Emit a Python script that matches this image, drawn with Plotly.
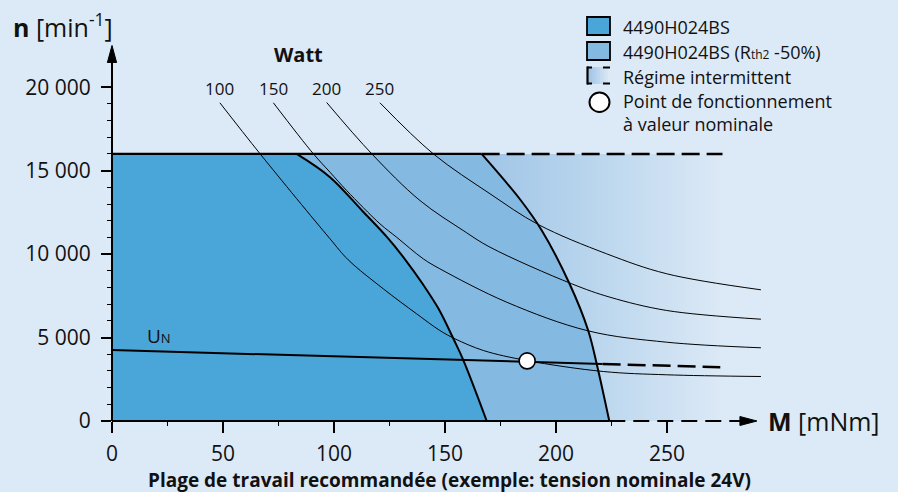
import plotly.graph_objects as go

# ---------------- data ----------------
M_TICKS = [0, 50, 100, 150, 200, 250]
M_MINOR = [25, 75, 125, 175, 225]
N_TICKS = [0, 5000, 10000, 15000, 20000]
N_TICK_TEXT = ["0", "5 000", "10 000", "15 000", "20 000"]
N_MINOR = [1000, 2000, 3000, 4000, 6000, 7000, 8000, 9000, 11000, 12000,
           13000, 14000, 16000, 17000, 18000, 19000]

N_LIMIT = 16000            # max speed
M_INTERMITTENT_END = 275   # end of intermittent zone
M_AXIS_END = 290.5         # arrow tip of torque axis
N_AXIS_END = 22500         # arrow tip of speed axis

# continuous operation limit (4490H024BS)
CONT_M = [83.2, 98.2, 112.6, 123.9, 131.8, 139.9, 147.1, 153.8, 158.2, 168.8]
CONT_N = [16000, 14608, 12613, 11013, 9719, 8221, 6723, 4925, 3667, 0]

# continuous operation limit with Rth2 -50%
LIGHT_M = [166.5, 184.2, 193.6, 206.1, 214.5, 218.5, 224.0]
LIGHT_N = [16000, 13212, 11414, 8221, 5423, 3326, 0]

# constant power curves (Watt)
POWER_LABELS = ["100", "150", "200", "250"]
P100_M = [48.6, 66.7, 98.2, 106.4, 122.2, 137.2, 147.7, 154.5, 167.3, 186.8, 221.3, 249.9, 292.3]
P100_N = [19065, 16010, 10917, 9658, 7920, 6423, 5422, 4925, 4224, 3625, 2966, 2768, 2666]
P150_M = [72.7, 90.7, 98.2, 105.7, 120.7, 128.2, 140.2, 147.7, 177.8, 214.5, 249.9, 292.3]
P150_N = [19065, 16010, 14907, 13810, 11815, 11013, 9718, 9119, 7118, 5400, 4721, 4386]
P200_M = [96.7, 117.0, 138.7, 158.2, 170.3, 207.1, 224.3, 249.9, 292.3]
P200_N = [19083, 16010, 13212, 11414, 10413, 8220, 7418, 6621, 6099]
P250_M = [120.7, 144.7, 170.3, 192.0, 222.8, 249.9, 292.3]
P250_N = [19065, 16010, 13613, 11773, 10018, 8820, 7861]

# nominal voltage line U_N
UN_M = [0, 221.0]
UN_N = [4250, 3420]
UN_DASH_M = [221.0, 274.0]
UN_DASH_N = [3420, 3220]

# nominal operating point
OP_M = [187]
OP_N = [3600]

# ---------------- styling ----------------
BG = "#dce9f6"
DARK = "#4aa5d8"
LIGHT = "#84b9e2"
GRAD0 = "#a0c5e7"
FONT = "Open Sans"
TXT = "#111111"

W, H = 898, 492
L, R, T, B = 112, 9, 20, 71
PW, PH = W - L - R, H - T - B
X_RANGE = [0, 350]
Y_RANGE = [0, 24026]


def xp(px):
    return (px - L) / PW


def yp(py):
    return (H - B - py) / PH


def mx(m):
    return (m - X_RANGE[0]) / (X_RANGE[1] - X_RANGE[0])


def ny(n):
    return (n - Y_RANGE[0]) / (Y_RANGE[1] - Y_RANGE[0])


fig = go.Figure()

# intermittent zone (gradient)
fig.add_trace(go.Scatter(
    x=[LIGHT_M[-1] - 60, LIGHT_M[-1] - 60, M_INTERMITTENT_END, M_INTERMITTENT_END],
    y=[0, N_LIMIT, N_LIMIT, 0],
    mode="none", fill="toself",
    fillgradient=dict(type="horizontal",
                      colorscale=[[0, GRAD0], [0.5, "#bcd7ee"], [1, BG]],
                      start=LIGHT_M[0], stop=M_INTERMITTENT_END),
    hoverinfo="skip", showlegend=False))

# light region
fig.add_trace(go.Scatter(
    x=[0, 0] + LIGHT_M, y=[0, N_LIMIT] + LIGHT_N,
    mode="none", fill="toself", fillcolor=LIGHT,
    hoverinfo="skip", showlegend=False))

# dark region
fig.add_trace(go.Scatter(
    x=[0, 0] + CONT_M, y=[0, N_LIMIT] + CONT_N,
    mode="none", fill="toself", fillcolor=DARK,
    hoverinfo="skip", showlegend=False))

# power curves
for pm, pn in [(P100_M, P100_N), (P150_M, P150_N), (P200_M, P200_N), (P250_M, P250_N)]:
    fig.add_trace(go.Scatter(x=pm, y=pn, mode="lines",
                             line=dict(color="black", width=1, shape="spline", smoothing=1.0),
                             hoverinfo="skip", showlegend=False))

# boundaries
fig.add_trace(go.Scatter(x=CONT_M, y=CONT_N, mode="lines",
                         line=dict(color="black", width=2, shape="spline", smoothing=1.0),
                         hoverinfo="skip", showlegend=False))
fig.add_trace(go.Scatter(x=LIGHT_M, y=LIGHT_N, mode="lines",
                         line=dict(color="black", width=2, shape="spline", smoothing=1.0),
                         hoverinfo="skip", showlegend=False))

# speed limit line
fig.add_trace(go.Scatter(x=[0, LIGHT_M[0]], y=[N_LIMIT, N_LIMIT], mode="lines",
                         line=dict(color="black", width=2.2),
                         hoverinfo="skip", showlegend=False))
fig.add_trace(go.Scatter(x=[LIGHT_M[0], M_INTERMITTENT_END], y=[N_LIMIT, N_LIMIT], mode="lines",
                         line=dict(color="black", width=2.5, dash="18px,7px"),
                         hoverinfo="skip", showlegend=False))

# U_N line
fig.add_trace(go.Scatter(x=UN_M, y=UN_N, mode="lines",
                         line=dict(color="black", width=2),
                         hoverinfo="skip", showlegend=False))
fig.add_trace(go.Scatter(x=UN_DASH_M, y=UN_DASH_N, mode="lines",
                         line=dict(color="black", width=2.5, dash="18px,7px"),
                         hoverinfo="skip", showlegend=False))

# operating point
fig.add_trace(go.Scatter(x=OP_M, y=OP_N, mode="markers",
                         marker=dict(size=16, color="white", line=dict(color="black", width=1.6)),
                         cliponaxis=False, hoverinfo="skip", showlegend=False))

shapes = []
# axes lines and arrows (paper refs to avoid clipping)
shapes.append(dict(type="line", xref="paper", yref="paper",
                   x0=mx(0), x1=mx(LIGHT_M[-1]), y0=0, y1=0,
                   line=dict(color="black", width=2)))
x_base = M_AXIS_END - 17 / PW * (X_RANGE[1] - X_RANGE[0])
shapes.append(dict(type="line", xref="paper", yref="paper",
                   x0=mx(LIGHT_M[-1]), x1=mx(x_base), y0=0, y1=0,
                   line=dict(color="black", width=2, dash="16px,8px")))
hh = 4.5 / PH
shapes.append(dict(type="path", xref="paper", yref="paper",
                   path=f"M {mx(M_AXIS_END)},0 L {mx(x_base)},{hh} L {mx(x_base)},{-hh} Z",
                   fillcolor="black", line=dict(color="black", width=1)))
y_base = N_AXIS_END - 17 / PH * (Y_RANGE[1] - Y_RANGE[0])
shapes.append(dict(type="line", xref="paper", yref="paper",
                   x0=0, x1=0, y0=0, y1=ny(y_base),
                   line=dict(color="black", width=2)))
hw = 4.6 / PW
shapes.append(dict(type="path", xref="paper", yref="paper",
                   path=f"M 0,{ny(N_AXIS_END)} L {-hw},{ny(y_base)} L {hw},{ny(y_base)} Z",
                   fillcolor="black", line=dict(color="black", width=1)))

# legend symbols
shapes.append(dict(type="rect", xref="paper", yref="paper",
                   x0=xp(587), x1=xp(610), y0=yp(35), y1=yp(17),
                   fillcolor=DARK, line=dict(color="black", width=1.8)))
shapes.append(dict(type="rect", xref="paper", yref="paper",
                   x0=xp(587), x1=xp(610), y0=yp(60), y1=yp(42),
                   fillcolor=LIGHT, line=dict(color="black", width=1.8)))


def hex2rgb(h):
    h = h.lstrip("#")
    return tuple(int(h[i:i + 2], 16) for i in (0, 2, 4))


c0, c1 = hex2rgb(GRAD0), hex2rgb(BG)
nstrip = 11
for i in range(nstrip):
    f = i / (nstrip - 1)
    col = "rgb(%d,%d,%d)" % tuple(round(a + (b - a) * f) for a, b in zip(c0, c1))
    xa = 588 + i * 22 / nstrip
    shapes.append(dict(type="rect", xref="paper", yref="paper",
                       x0=xp(xa), x1=xp(xa + 22 / nstrip + 0.3), y0=yp(84), y1=yp(67),
                       fillcolor=col, line=dict(width=0)))
shapes.append(dict(type="line", xref="paper", yref="paper",
                   x0=xp(587.5), x1=xp(587.5), y0=yp(84.5), y1=yp(66.5),
                   line=dict(color="black", width=2.2)))
for yy in (67.5, 83.5):
    shapes.append(dict(type="line", xref="paper", yref="paper",
                       x0=xp(587), x1=xp(592), y0=yp(yy), y1=yp(yy),
                       line=dict(color="black", width=2)))
    shapes.append(dict(type="line", xref="paper", yref="paper",
                       x0=xp(603), x1=xp(610), y0=yp(yy), y1=yp(yy),
                       line=dict(color="black", width=2)))
shapes.append(dict(type="circle", xref="paper", yref="paper",
                   x0=xp(589.5), x1=xp(609.5), y0=yp(112), y1=yp(92.5),
                   fillcolor="white", line=dict(color="black", width=2)))

annotations = []


def ann(text, x, y, xref="paper", yref="paper", xanchor="left", yanchor="middle", size=18, **kw):
    annotations.append(dict(text=text, x=x, y=y, xref=xref, yref=yref, xanchor=xanchor,
                            yanchor=yanchor, showarrow=False,
                            font=dict(family=FONT, size=size, color=TXT), **kw))


ann("<b>n</b> [min<sup>-1</sup>]", xp(11), yp(25), size=25)
ann("<b>M</b> [mNm]", xp(766), yp(421), size=25)
ann("<b>Watt</b>", 84, 21930, xref="x", yref="y", xanchor="center", size=20)
for lab, pm in zip(POWER_LABELS, [P100_M, P150_M, P200_M, P250_M]):
    ann(lab, pm[0], 19950, xref="x", yref="y", xanchor="center", size=17)
ann("U<span style='font-size:13px'>N</span>", 14.9, 5100, xref="x", yref="y", size=19)
ann("<b>Plage de travail recommandée (exemple: tension nominale 24V)</b>",
    xp(449), yp(479.5), xanchor="center", size=19)

ann("4490H024BS", xp(621), yp(27))
ann("4490H024BS (R<span style='font-size:12px'>th2</span> -50%)", xp(621), yp(52))
ann("Régime intermittent", xp(621), yp(77))
ann("Point de fonctionnement<br>à valeur nominale", xp(621), yp(112), align="left")

fig.update_layout(
    width=W, height=H,
    margin=dict(l=L, r=R, t=T, b=B, pad=0),
    paper_bgcolor=BG, plot_bgcolor=BG,
    font=dict(family=FONT, size=17, color=TXT),
    shapes=shapes, annotations=annotations,
    showlegend=False,
)
fig.update_xaxes(range=X_RANGE, showgrid=False, zeroline=False, showline=False,
                 tickmode="array", tickvals=M_TICKS, ticks="outside", ticklen=11,
                 tickwidth=1.5, tickcolor="black", tickfont=dict(size=21, family=FONT, color=TXT),
                 ticklabelstandoff=3,
                 minor=dict(tickmode="array", tickvals=M_MINOR, ticks="outside",
                            ticklen=4, tickwidth=1.2, tickcolor="black"),
                 fixedrange=True)
fig.update_yaxes(range=Y_RANGE, showgrid=False, zeroline=False, showline=False,
                 tickmode="array", tickvals=N_TICKS, ticktext=N_TICK_TEXT,
                 ticks="outside", ticklen=10, tickwidth=1.5, tickcolor="black",
                 tickfont=dict(size=21, family=FONT, color=TXT),
                 ticklabelstandoff=6,
                 minor=dict(tickmode="array", tickvals=N_MINOR, ticks="outside",
                            ticklen=4, tickwidth=1.2, tickcolor="black"),
                 fixedrange=True)

fig.write_html("out.html", config={"displayModeBar": False},
               post_script="document.body.style.margin='0';document.body.style.overflow='hidden';")
